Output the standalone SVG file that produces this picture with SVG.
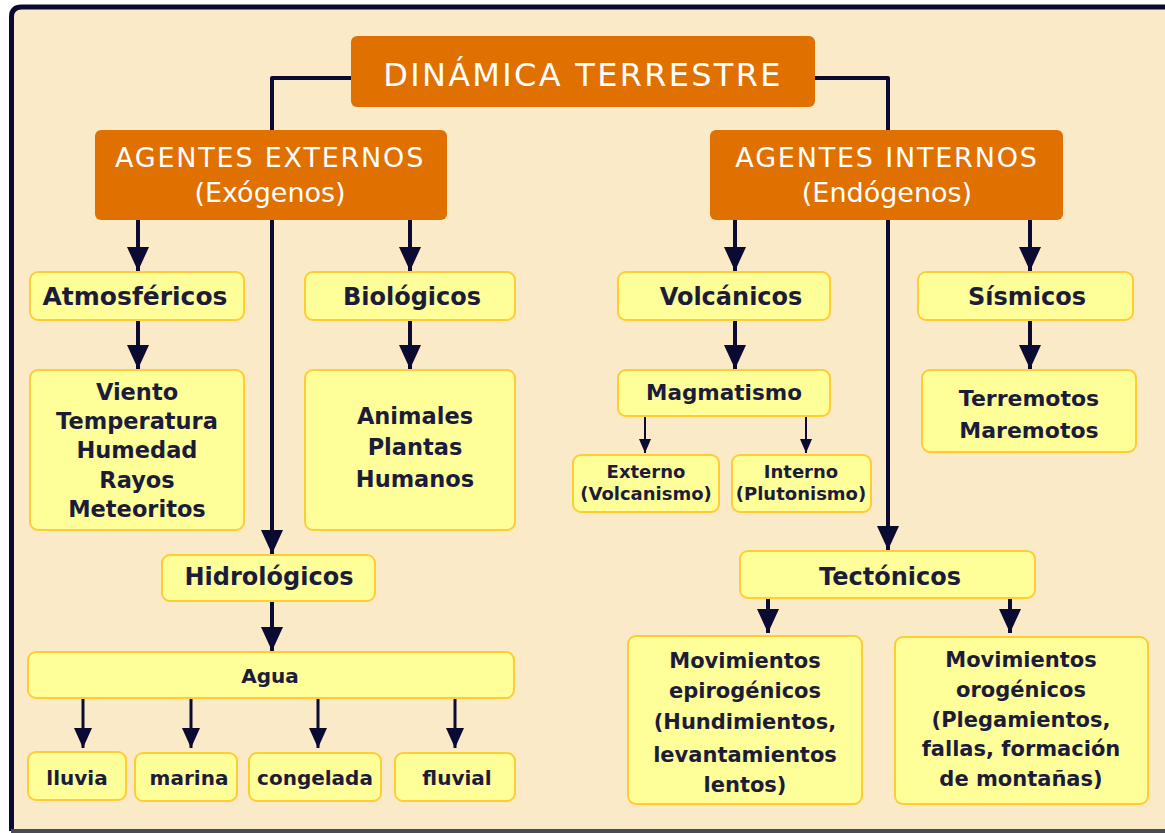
<svg xmlns="http://www.w3.org/2000/svg" width="1165" height="833" viewBox="0 0 1165 833">
<style>
.frame{fill:#FAEAC8}
.orange{fill:#E07000}
.box{fill:#FFFF99;stroke:#FFCC33;stroke-width:2}
.tw{font-family:"DejaVu Sans",sans-serif;fill:#FFFFFF;text-anchor:middle}
.td{font-family:"DejaVu Sans",sans-serif;font-weight:bold;fill:#1C1C3A;text-anchor:middle}
.c{fill:none;stroke:#0A0A33;stroke-linejoin:round}
.thick{stroke-width:4;marker-end:url(#big)}
.med{stroke-width:3;marker-end:url(#mid)}
.thin{stroke-width:2;marker-end:url(#small)}
</style>
<defs>
<marker id="big" markerUnits="userSpaceOnUse" markerWidth="24" markerHeight="22" viewBox="0 0 24 22" refX="24" refY="11" orient="auto"><path d="M0,0 L24,11 L0,22 Z" fill="#0A0A33"/></marker>
<marker id="mid" markerUnits="userSpaceOnUse" markerWidth="20" markerHeight="18" viewBox="0 0 20 18" refX="20" refY="9" orient="auto"><path d="M0,0 L20,9 L0,18 Z" fill="#0A0A33"/></marker>
<marker id="small" markerUnits="userSpaceOnUse" markerWidth="14" markerHeight="12" viewBox="0 0 14 12" refX="14" refY="6" orient="auto"><path d="M0,0 L14,6 L0,12 Z" fill="#0A0A33"/></marker>
</defs>
<rect x="0" y="0" width="1165" height="833" fill="#FFFFFF"/>
<rect class="frame" x="11" y="7" width="1170" height="824" rx="10"/>
<path d="M11.5,831 V17 Q11.5,7 21.5,7 H1165" fill="none" stroke="#0A0A33" stroke-width="5"/>
<line x1="11" y1="831" x2="1165" y2="831" stroke="#4A4A55" stroke-width="4"/>

<g id="connectors">
<path class="c thick" d="M352,78 H272 V554"/>
<path class="c thick" d="M814,78 H888 V550"/>
<path class="c thick" d="M138,220 V271"/>
<path class="c thick" d="M410,220 V271"/>
<path class="c thick" d="M735,220 V271"/>
<path class="c thick" d="M1030,220 V271"/>
<path class="c thick" d="M138,320 V369"/>
<path class="c thick" d="M410,320 V369"/>
<path class="c thick" d="M735,320 V369"/>
<path class="c thick" d="M1030,320 V369"/>
<path class="c thin" d="M645,416 V453"/>
<path class="c thin" d="M806,416 V453"/>
<path class="c thick" d="M272,601 V651"/>
<path class="c med" d="M83,698 V748"/>
<path class="c med" d="M191,698 V748"/>
<path class="c med" d="M318,698 V748"/>
<path class="c med" d="M455,698 V748"/>
<path class="c thick" d="M768,598 V633"/>
<path class="c thick" d="M1010,598 V633"/>
</g>

<g id="dinamica">
<rect class="orange" x="351" y="36" width="464" height="71" rx="6"/>
<text class="tw" x="583" y="86" font-size="32" letter-spacing="2.3">DINÁMICA TERRESTRE</text>
</g>
<g id="externos">
<rect class="orange" x="95" y="130" width="352" height="90" rx="6"/>
<text class="tw" x="270" y="167" font-size="27" letter-spacing="1.8">AGENTES EXTERNOS</text>
<text class="tw" x="270" y="202" font-size="27">(Exógenos)</text>
</g>
<g id="internos">
<rect class="orange" x="710" y="130" width="353" height="90" rx="6"/>
<text class="tw" x="887" y="167" font-size="27" letter-spacing="1.8">AGENTES INTERNOS</text>
<text class="tw" x="887" y="202" font-size="27">(Endógenos)</text>
</g>

<g id="atmosfericos">
<rect class="box" x="30" y="272" width="214" height="48" rx="8"/>
<text class="td" x="135" y="305" font-size="25">Atmosféricos</text>
</g>
<g id="biologicos">
<rect class="box" x="305" y="272" width="210" height="48" rx="8"/>
<text class="td" x="412" y="305" font-size="24">Biológicos</text>
</g>
<g id="volcanicos">
<rect class="box" x="618" y="272" width="212" height="48" rx="8"/>
<text class="td" x="731" y="305" font-size="24">Volcánicos</text>
</g>
<g id="sismicos">
<rect class="box" x="918" y="272" width="215" height="48" rx="8"/>
<text class="td" x="1027" y="305" font-size="24">Sísmicos</text>
</g>

<g id="atm-lista">
<rect class="box" x="30" y="370" width="214" height="160" rx="8"/>
<text class="td" font-size="22.5"><tspan x="137" y="400">Viento</tspan><tspan x="137" y="429">Temperatura</tspan><tspan x="137" y="458">Humedad</tspan><tspan x="137" y="488">Rayos</tspan><tspan x="137" y="517">Meteoritos</tspan></text>
</g>
<g id="bio-lista">
<rect class="box" x="305" y="370" width="210" height="160" rx="8"/>
<text class="td" font-size="22.5"><tspan x="415" y="424">Animales</tspan><tspan x="415" y="455">Plantas</tspan><tspan x="415" y="487">Humanos</tspan></text>
</g>
<g id="magmatismo">
<rect class="box" x="618" y="370" width="212" height="46" rx="8"/>
<text class="td" x="724" y="400" font-size="21.5">Magmatismo</text>
</g>
<g id="externo">
<rect class="box" x="573" y="455" width="146" height="57" rx="8"/>
<text class="td" font-size="18"><tspan x="646" y="478">Externo</tspan><tspan x="646" y="500">(Volcanismo)</tspan></text>
</g>
<g id="interno">
<rect class="box" x="732" y="455" width="139" height="57" rx="8"/>
<text class="td" font-size="18"><tspan x="801" y="478">Interno</tspan><tspan x="801" y="500">(Plutonismo)</tspan></text>
</g>
<g id="sis-lista">
<rect class="box" x="922" y="370" width="214" height="82" rx="8"/>
<text class="td" font-size="22"><tspan x="1029" y="406">Terremotos</tspan><tspan x="1029" y="438">Maremotos</tspan></text>
</g>

<g id="hidrologicos">
<rect class="box" x="162" y="555" width="213" height="46" rx="8"/>
<text class="td" x="269" y="585" font-size="24">Hidrológicos</text>
</g>
<g id="agua">
<rect class="box" x="28" y="652" width="486" height="46" rx="8"/>
<text class="td" x="270" y="683" font-size="20">Agua</text>
</g>
<g id="lluvia">
<rect class="box" x="28" y="752" width="98" height="48" rx="8"/>
<text class="td" x="77" y="785" font-size="20">lluvia</text>
</g>
<g id="marina">
<rect class="box" x="135" y="753" width="102" height="48" rx="8"/>
<text class="td" x="189" y="785" font-size="20">marina</text>
</g>
<g id="congelada">
<rect class="box" x="249" y="753" width="132" height="48" rx="8"/>
<text class="td" x="315" y="785" font-size="20">congelada</text>
</g>
<g id="fluvial">
<rect class="box" x="395" y="753" width="120" height="48" rx="8"/>
<text class="td" x="457" y="785" font-size="20">fluvial</text>
</g>

<g id="tectonicos">
<rect class="box" x="740" y="551" width="295" height="47" rx="8"/>
<text class="td" x="890" y="585" font-size="24">Tectónicos</text>
</g>
<g id="epirogenicos">
<rect class="box" x="628" y="636" width="234" height="168" rx="8"/>
<text class="td" font-size="21"><tspan x="745" y="668">Movimientos</tspan><tspan x="745" y="698">epirogénicos</tspan><tspan x="745" y="729">(Hundimientos,</tspan><tspan x="745" y="762">levantamientos</tspan><tspan x="745" y="792">lentos)</tspan></text>
</g>
<g id="orogenicos">
<rect class="box" x="895" y="637" width="253" height="167" rx="8"/>
<text class="td" font-size="21"><tspan x="1021" y="667">Movimientos</tspan><tspan x="1021" y="697">orogénicos</tspan><tspan x="1021" y="727">(Plegamientos,</tspan><tspan x="1021" y="756">fallas, formación</tspan><tspan x="1021" y="786">de montañas)</tspan></text>
</g>
</svg>
